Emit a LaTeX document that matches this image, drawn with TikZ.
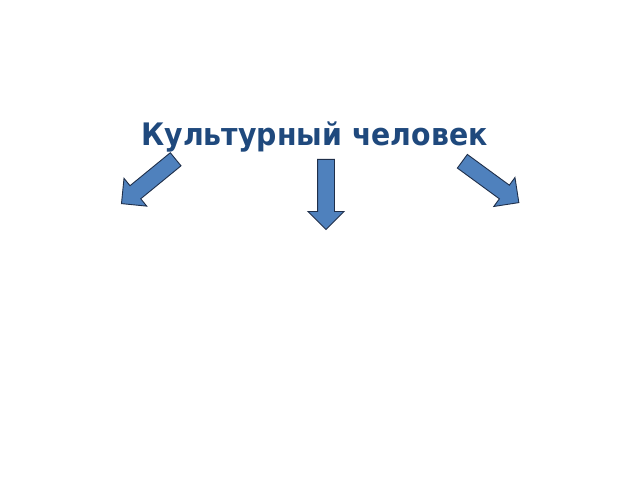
\documentclass[tikz,border=0pt]{standalone}
\usepackage{fontspec}
\setmainfont{DejaVu Sans}
\newfontfamily\titlefont[FakeStretch=0.915]{DejaVu Sans Bold}
\usetikzlibrary{shapes.arrows}
\definecolor{titleblue}{HTML}{1F497D}
\definecolor{arrowfill}{HTML}{4F81BD}
\definecolor{arrowline}{HTML}{1F2F4A}
\begin{document}
\begin{tikzpicture}[
    x=1pt, y=1pt,
    title/.style={text=titleblue, font=\titlefont\fontsize{31}{36}\selectfont,
                  inner sep=0pt, anchor=base},
    blockarr/.style={single arrow, draw=arrowline, fill=arrowfill,
                     line width=0.9pt, inner xsep=0pt, inner ysep=8pt,
                     single arrow head extend=9.5pt, minimum height=70pt,
                     anchor=tail}
  ]
    \path[fill=white] (0,0) rectangle (640,480);
    \node[title] (title) at (314.5,334.3) {Культурный человек};

    \node[blockarr, rotate=219.3] (left)   at (176,321) {};
    \node[blockarr, rotate=-90]   (middle) at (326,321) {};
    \node[blockarr, rotate=-36.2] (right)  at (462,319) {};
  \end{tikzpicture}
\end{document}
